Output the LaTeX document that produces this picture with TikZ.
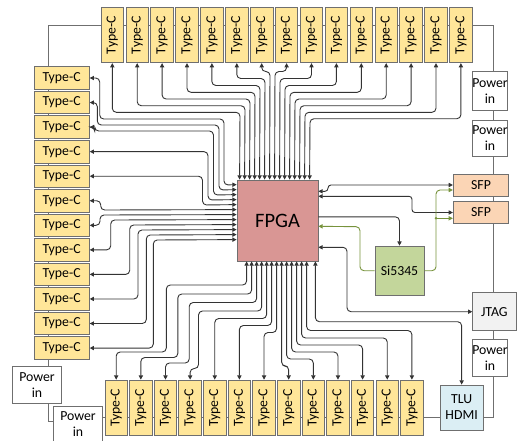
\documentclass[tikz,border=0pt]{standalone}
\usepackage{fontspec}
\setmainfont{Carlito}
\usetikzlibrary{arrows.meta,calc}
\definecolor{tcfill}{HTML}{FFE699}
\definecolor{tcdraw}{HTML}{6F6F6F}
\definecolor{fpgafill}{HTML}{D99694}
\definecolor{sifill}{HTML}{C3D69B}
\definecolor{sfpfill}{HTML}{FBD5B5}
\definecolor{jtagfill}{HTML}{F2F2F2}
\definecolor{tlufill}{HTML}{DBEEF4}
\definecolor{linec}{HTML}{333333}
\definecolor{greenc}{HTML}{77933C}
\definecolor{chainc}{HTML}{6F6F6F}
\begin{document}
\begin{tikzpicture}[x=1pt,y=-1pt,
  box/.style={draw=tcdraw, line width=0.8pt, inner sep=0pt, font=\fontsize{13.8}{16}\selectfont, align=center},
  tch/.style={box, fill=tcfill, minimum width=55.3pt, minimum height=22.6pt},
  tcv/.style={box, fill=tcfill, minimum width=22.5pt, minimum height=55.4pt},
  pwr/.style={box, fill=white, minimum width=34.6pt, minimum height=37pt},
  kk/.tip={Triangle[length=4.2pt,width=4.2pt]},
  link/.style={draw=linec, line width=0.9pt, rounded corners=4pt},
  dl/.style={link, kk-kk},
  sl/.style={link, -kk},
  gl/.style={link, draw=greenc, -kk},
  chain/.style={draw=chainc, line width=0.9pt}
]
\useasboundingbox (0,0) rectangle (527,440);
% ring line behind the boxes
\coordinate (cA) at (55,421);
\coordinate (cB) at (48.3,421);
\coordinate (cC) at (48.3,25);
\coordinate (cD) at (493.5,25);
\coordinate (cE) at (493.5,417);
\coordinate (cF) at (100,417);
\draw[chain] (cA) -- (cB) -- (cC) -- (cD) -- (cE) -- (cF);

% Type-C boxes
\foreach \i in {1,...,15}
  \node[tcv] (T\i) at ({112.3+24.9*(\i-1)},35) {\rotatebox{90}{Type-C}};
\foreach \j in {1,...,12}
  \node[tch] (L\j) at (61.65,{78+24.55*(\j-1)}) {Type-C};
\foreach \i in {1,...,13}
  \node[tcv] (B\i) at ({116.2+24.64*(\i-1)},407.75) {\rotatebox{90}{Type-C}};

% other boxes
\node[box, fill=fpgafill, minimum width=81pt, minimum height=81pt, font=\fontsize{20.5}{24}\selectfont] (F) at (277.5,220.5) {FPGA};
\node[box, fill=sifill, minimum width=49pt, minimum height=49.3pt] (Si) at (399.5,270.7) {Si5345};
\node[box, fill=sfpfill, minimum width=55.4pt, minimum height=22pt] (S1) at (481,185) {SFP};
\node[box, fill=sfpfill, minimum width=55.4pt, minimum height=21.6pt] (S2) at (481,212.5) {SFP};
\node[box, fill=jtagfill, minimum width=43.3pt, minimum height=38pt] (J) at (494.35,311.7) {JTAG};
\node[box, fill=tlufill, minimum width=43.3pt, minimum height=45pt] (TLU) at (461.65,407.5) {TLU\\HDMI};
\node[pwr, minimum height=38.3pt] (P1) at (490,90.85) {Power\\in};
\node[pwr, minimum height=36.7pt] (P2) at (490,138.35) {Power\\in};
\node[pwr, minimum height=36.7pt] (P3) at (490,357.65) {Power\\in};
\node[pwr, minimum width=49.4pt, minimum height=37.3pt] (PL1) at (37,384.65) {Power\\in};
\node[pwr, minimum width=49.4pt, minimum height=37pt] (PL2) at (78,424.5) {Power\\in};

% top connections
\foreach \i/\lv in {1/112.3, 2/105.7, 3/99, 4/92.3, 5/85.5, 6/78.5, 7/71.5, 8/71.5, 9/78.5, 10/85.5, 11/92.3, 12/99, 13/105.7, 14/112.3, 15/118.7}
  \draw[dl] (T\i.south) |- ({235+5*\i},\lv) -- ([xshift={(5*\i-2)*1pt}]F.north west);

% left connections
\foreach \j/\xa/\yh/\xv in {1/99.7/119/224, 2/97.3/125/219, 3/94.7/131/213.5}
  \draw[dl] (L\j.east) -| (\xa,\yh) -| (\xv,{180+5*\j}) -- ([yshift={-(5*\j)*1pt}]F.north west);
\foreach \j/\xv in {4/208, 5/202.5, 6/100.7, 7/100, 8/110.7, 9/129.7, 10/138, 11/146.3, 12/153.3}
  \draw[dl] (L\j.east) -| (\xv,{180+5*\j}) -- ([yshift={-(5*\j)*1pt}]F.north west);

% bottom connections
\foreach \i/\ha/\xv/\hb in {1/285/166.3/352, 2/294/177.8/357.5, 3/302.5/189.2/363, 4/311/198.5/368.5}
  \draw[dl] ([xshift={(5+5*\i)*1pt}]F.south west) |- (\xv,\ha) |- ({116.2+24.64*(\i-1)},\hb) -- (B\i.north);
\foreach \i/\h in {5/318.5, 6/325.5, 7/332.5, 8/366, 9/359, 10/352, 11/345, 12/338, 13/330.5}
  \draw[dl] ([xshift={(5+5*\i)*1pt}]F.south west) |- ({116.2+24.64*(\i-1)},\h) -- (B\i.north);

% TLU
\draw[dl] ([xshift=-3pt]F.south east) |- (461.65,321.7) -- (TLU.north);

% right side
\draw[dl, rounded corners=3pt] ([yshift=-11.7pt]F.north east) -| (328,185) -- (S1.west);
\draw[dl, rounded corners=3pt] ([yshift=-16.7pt]F.north east) -| (412,212.5) -- (S2.west);
\draw[sl] ([yshift=-37.3pt]F.north east) -| (Si.north);
\draw[dl] ([yshift=-67.7pt]F.north east) -| (347,311.7) -- (J.west);
\draw[gl] (Si.east) -| (436,190) -- ([yshift=-5pt]S1.west);
\coordinate (gj) at (436,218.3);
\draw[gl] (gj) -- ([yshift=-5.8pt]S2.west);
\fill[greenc] (gj) circle (1.4pt);
\draw[gl] (Si.west) -| (360,226.7) -- ([yshift=-46.7pt]F.north east);
\end{tikzpicture}
\end{document}
